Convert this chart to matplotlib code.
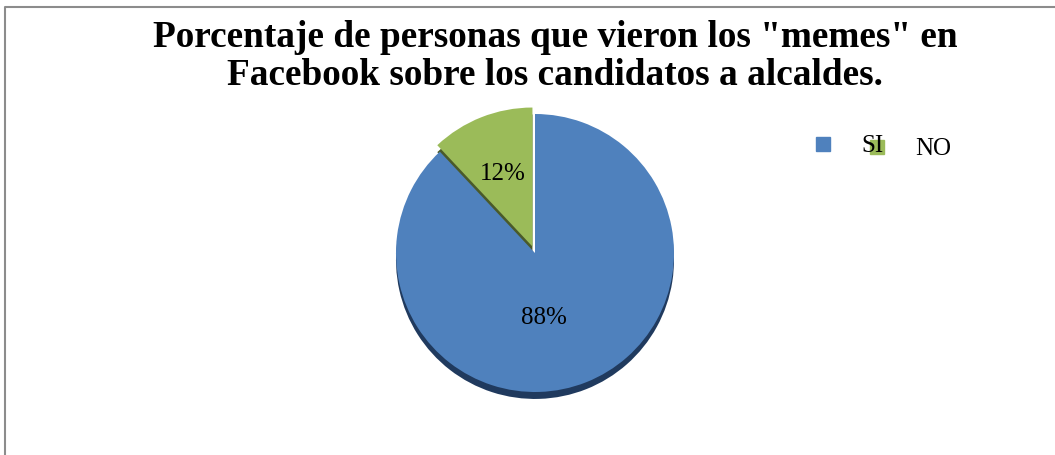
import matplotlib.pyplot as plt
from matplotlib.lines import Line2D

# Data
labels = ['SI', 'NO']
values = [88, 12]
colors = ['#4F81BD', '#9BBB59']
shadow_colors = ['#203a5e', '#4a5a2a']
explode = [0.0, 0.05]
title = 'Porcentaje de personas que vieron los "memes" en\nFacebook sobre los candidatos a alcaldes.'

W, H = 1055, 455
fig = plt.figure(figsize=(W / 100, H / 100), dpi=100)
plt.rcParams['font.family'] = ['Liberation Serif', 'DejaVu Serif']

# pie axes: radius 1 -> ~139 px, centre at (535, 253) px
r_px = 139
cx, cy = 535, 253
half = 1.5 * r_px
ax = fig.add_axes([(cx - half) / W, (H - cy - half) / H, 2 * half / W, 2 * half / H])
ax.axis('off')

# dark rim underneath to fake the 3D look
ax.pie(values, colors=shadow_colors, startangle=90, counterclock=False,
       explode=explode, center=(0, -0.05), radius=1.0,
       wedgeprops=dict(linewidth=0))

wedges, texts, autotexts = ax.pie(
    values, colors=colors, startangle=90, counterclock=False,
    explode=explode, radius=1.0, autopct='%1.0f%%', pctdistance=0.5,
    textprops=dict(fontsize=18, color='black'),
    wedgeprops=dict(linewidth=0))
# nudge labels a little towards where the original puts them
x0, y0 = autotexts[0].get_position()
autotexts[0].set_position((x0 - 0.12, y0))
x1, y1 = autotexts[1].get_position()
autotexts[1].set_position((x1 - 0.03, y1 + 0.06))
ax.set_xlim(-1.5, 1.5)
ax.set_ylim(-1.5, 1.5)
ax.set_aspect('equal')

# title
fig.text(555 / W, 1 - 20 / H, title, ha='center', va='top', fontsize=26.8,
         fontweight='bold', linespacing=1.1)

# legend: NO first so that the SI text sits on top of the green square
def square(c):
    return Line2D([], [], marker='s', linestyle='none', markersize=10,
                  markerfacecolor=c, markeredgecolor=c)

leg_kw = dict(loc='center left', frameon=False, fontsize=18, handlelength=0.6,
              handletextpad=1.25, borderpad=0, borderaxespad=0)
fig.legend([square(colors[1])], [labels[1]],
           bbox_to_anchor=(869 / W, 1 - 149 / H), **leg_kw)
fig.legend([square(colors[0])], [labels[0]],
           bbox_to_anchor=(815 / W, 1 - 146 / H), **leg_kw)

# chart-area border (left and top edges visible)
fig.add_artist(Line2D([5 / W, 5 / W, 1.0], [0.0, 1 - 7 / H, 1 - 7 / H],
                      transform=fig.transFigure, color='#8c8c8c', lw=1.5))

fig.savefig('out.png', dpi=100)
